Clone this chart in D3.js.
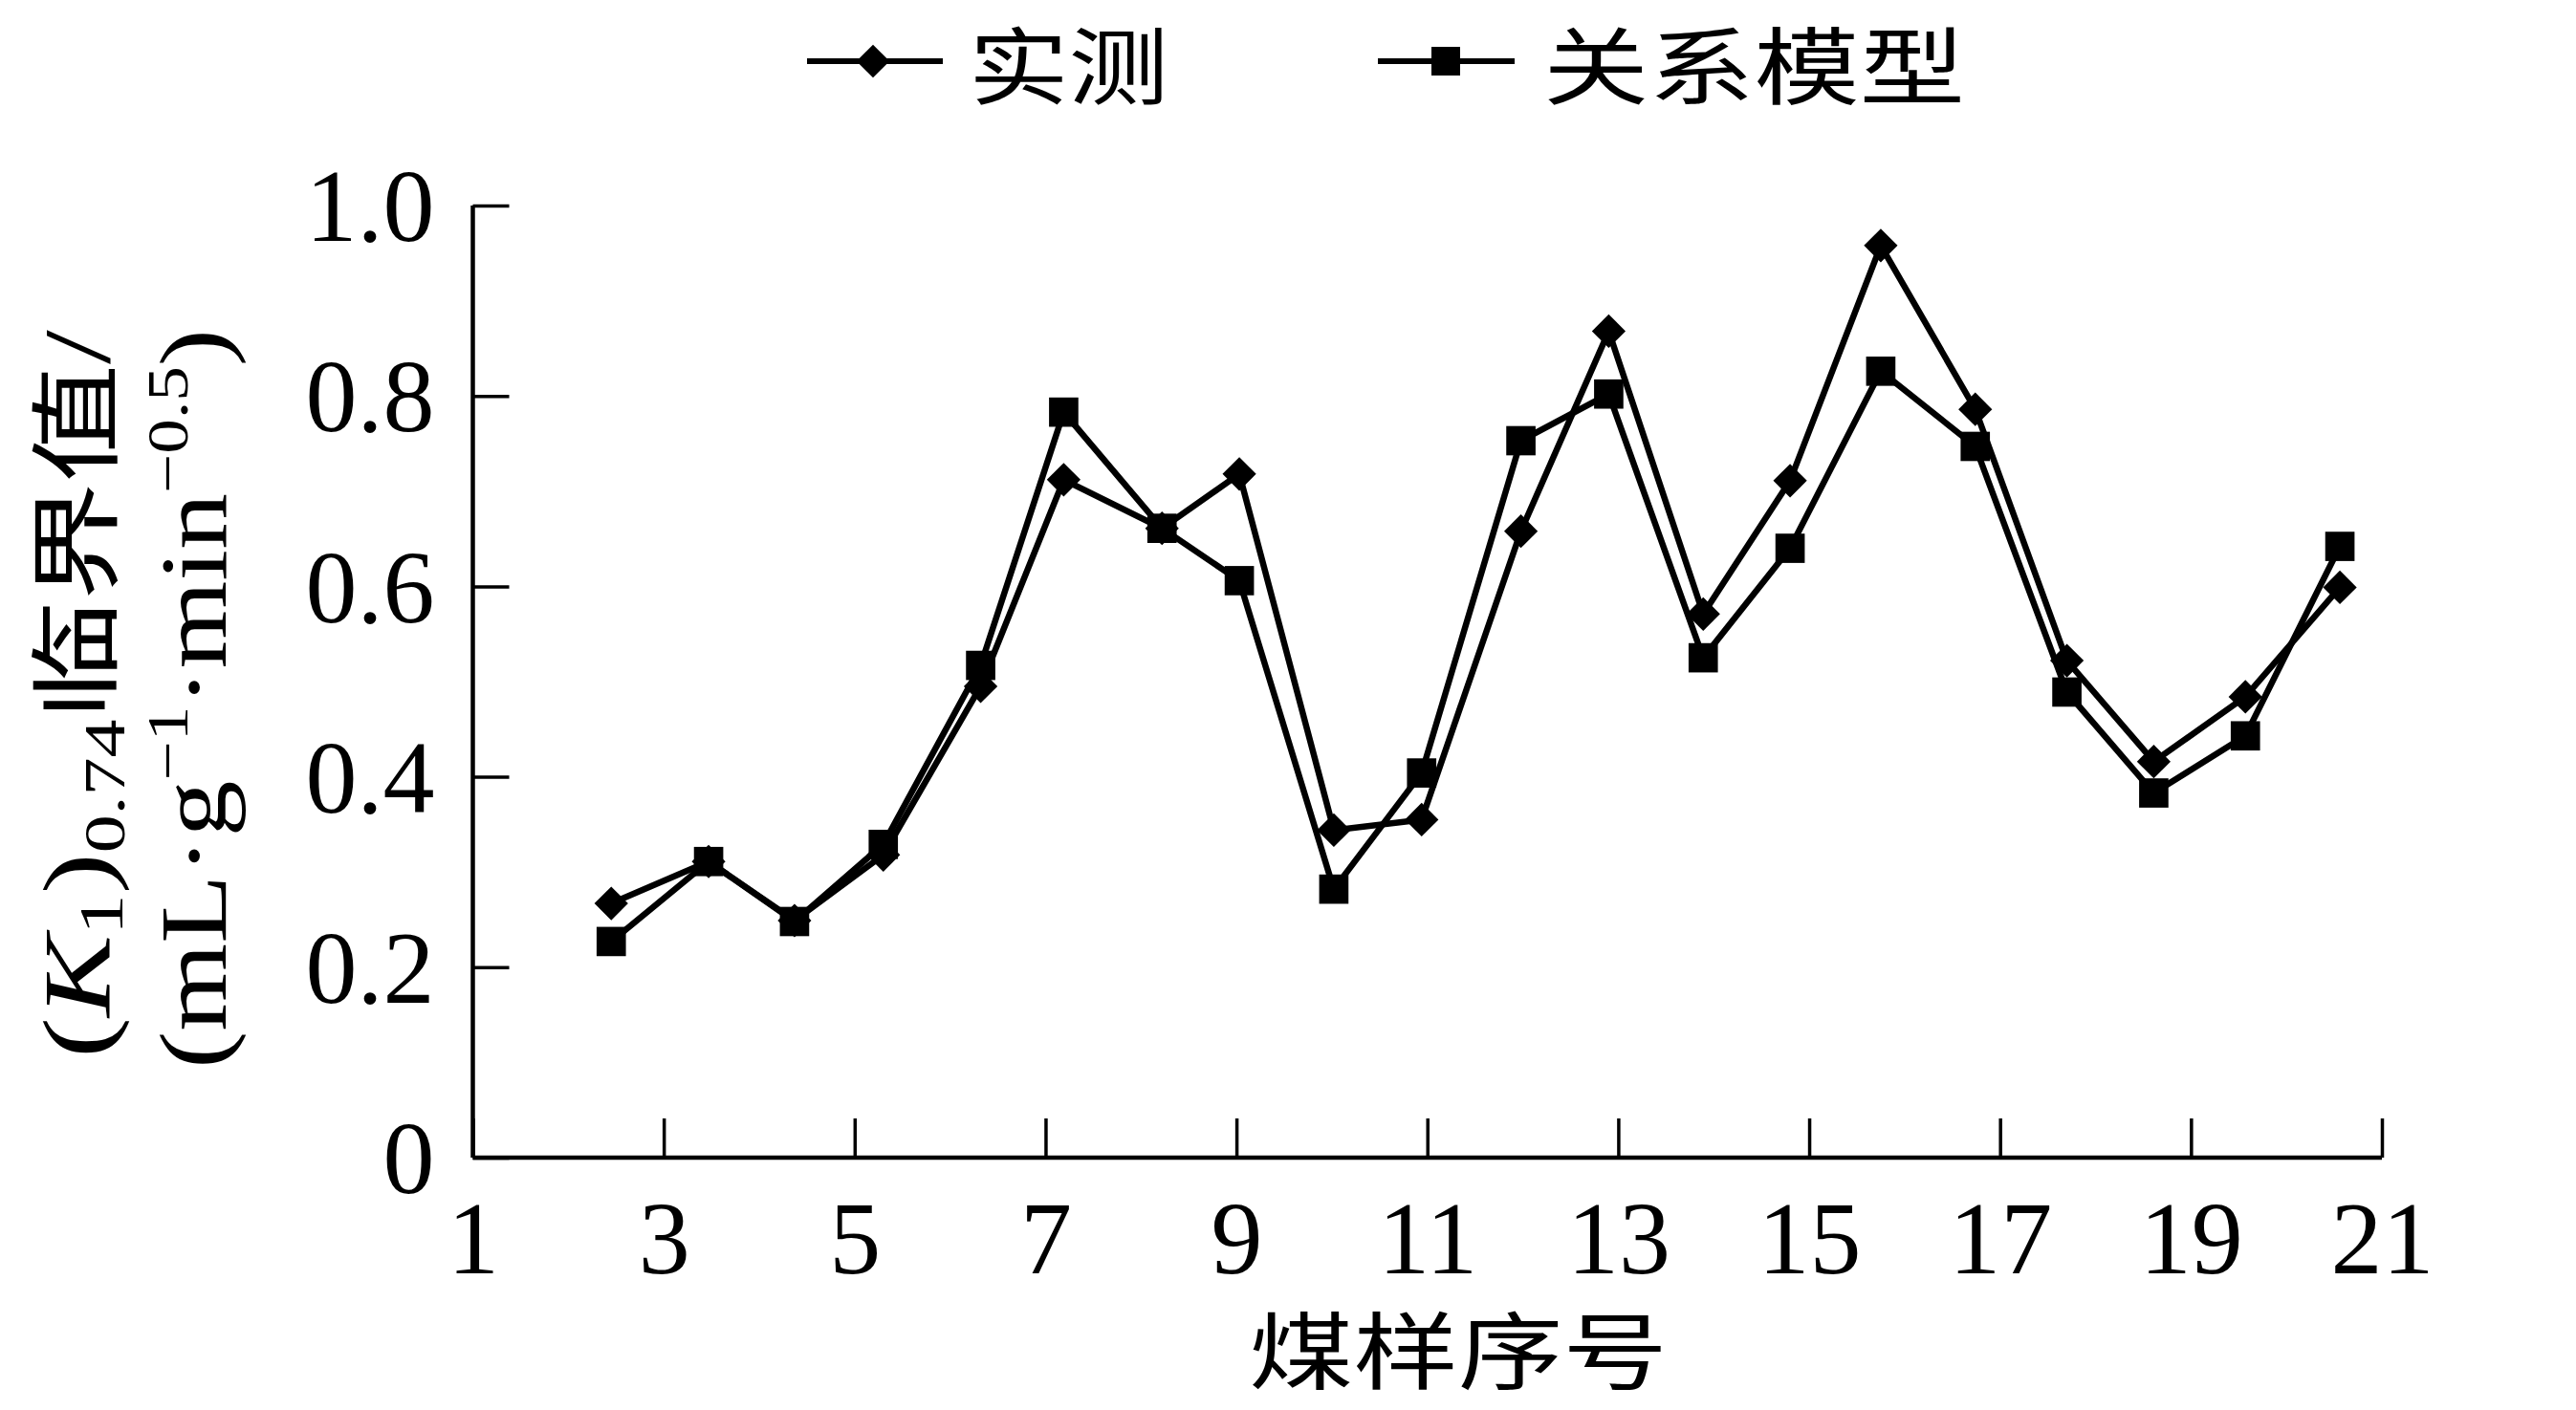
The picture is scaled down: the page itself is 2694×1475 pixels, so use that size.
<!DOCTYPE html>
<html>
<head>
<meta charset="utf-8">
<script src="https://cdn.jsdelivr.net/npm/d3@7"></script>
<style>
  html, body { margin: 0; padding: 0; background: #fff; }
  svg { display: block; }
</style>
</head>
<body>
<svg id="chart" width="2694" height="1475"></svg>
<script>
// ---- data ----
const sampleX = [2.45, 3.47, 4.37, 5.30, 6.32, 7.19, 8.22, 9.03, 10.02, 10.94,
                 11.98, 12.90, 13.89, 14.80, 15.75, 16.74, 17.70, 18.61, 19.57, 20.56];
const measured = [0.267, 0.311, 0.249, 0.318, 0.495, 0.712, 0.661, 0.718, 0.344, 0.355,
                  0.658, 0.868, 0.571, 0.711, 0.958, 0.786, 0.522, 0.416, 0.484, 0.599];
const model = [0.227, 0.311, 0.248, 0.329, 0.517, 0.783, 0.661, 0.606, 0.282, 0.404,
               0.753, 0.802, 0.525, 0.640, 0.826, 0.747, 0.489, 0.383, 0.443, 0.642];
const seriesNames = ["实测", "关系模型"];
const xTicks = [1, 3, 5, 7, 9, 11, 13, 15, 17, 19, 21];
const yTicks = [0, 0.2, 0.4, 0.6, 0.8, 1.0];
const yTickLabels = ["0", "0.2", "0.4", "0.6", "0.8", "1.0"];
const xTitle = "煤样序号";

// ---- layout ----
const svg = d3.select("#chart");
svg.append("rect").attr("width", 2694).attr("height", 1475).attr("fill", "#fff");

const X0 = 494.5, X1 = 2491, Y0 = 1211, Y1 = 215;
const x = d3.scaleLinear().domain([1, 21]).range([X0, X1]);
const y = d3.scaleLinear().domain([0, 1]).range([Y0, Y1]);

const serif = "'Liberation Serif', 'Times New Roman', serif";
const cjk = "'Noto Sans CJK SC', sans-serif";

// axes
const xAxis = d3.axisBottom(x).tickValues(xTicks).tickFormat(d3.format("d"))
  .tickSizeInner(-41).tickSizeOuter(0).tickPadding(44);
const gx = svg.append("g").attr("transform", `translate(0,${Y0})`).call(xAxis);

const yAxis = d3.axisLeft(y).tickValues(yTicks).tickFormat((d, i) => yTickLabels[i])
  .tickSizeInner(-38).tickSizeOuter(0).tickPadding(40);
const gy = svg.append("g").attr("transform", `translate(${X0},0)`).call(yAxis);

[gx, gy].forEach(g => {
  g.select(".domain").attr("stroke", "#000").attr("stroke-width", 4.5);
  g.selectAll(".tick line").attr("stroke", "#000").attr("stroke-width", 3.5);
  g.selectAll(".tick text").attr("fill", "#000")
    .style("font-family", serif).style("font-size", "108px");
});
gx.select(".domain").attr("d", `M${X0},0H${X1}`);
gy.select(".domain").attr("d", `M0,${Y0}V${Y1}`);
gy.selectAll(".tick text").attr("dy", "0.34em");

// lines and markers
const line = d3.line().x((d, i) => x(sampleX[i])).y(d => y(d));
const diamond = d3.symbol().type(d3.symbolSquare).size(620);
const square = d3.symbol().type(d3.symbolSquare).size(940);

svg.append("path").datum(measured).attr("d", line)
  .attr("fill", "none").attr("stroke", "#000").attr("stroke-width", 6.5).attr("stroke-linejoin", "miter");
svg.append("path").datum(model).attr("d", line)
  .attr("fill", "none").attr("stroke", "#000").attr("stroke-width", 6.5).attr("stroke-linejoin", "miter");

svg.append("g").selectAll("path").data(measured).join("path")
  .attr("d", diamond)
  .attr("transform", (d, i) => `translate(${x(sampleX[i])},${y(d)}) rotate(45)`)
  .attr("fill", "#000");
svg.append("g").selectAll("path").data(model).join("path")
  .attr("d", square)
  .attr("transform", (d, i) => `translate(${x(sampleX[i])},${y(d)})`)
  .attr("fill", "#000");

// legend
const leg = svg.append("g");
const legItems = [
  {name: seriesNames[0], x1: 844, x2: 986, mx: 913, sym: d3.symbol().type(d3.symbolSquare).size(600), rot: 45, tx: 1013, tw: 209},
  {name: seriesNames[1], x1: 1441, x2: 1584, mx: 1512, sym: d3.symbol().type(d3.symbolSquare).size(900), rot: 0, tx: 1614, tw: 441}
];
const LY = 64;
legItems.forEach(it => {
  leg.append("line").attr("x1", it.x1).attr("x2", it.x2).attr("y1", LY).attr("y2", LY)
    .attr("stroke", "#000").attr("stroke-width", 6);
  leg.append("path").attr("d", it.sym()).attr("fill", "#000")
    .attr("transform", `translate(${it.mx},${LY}) rotate(${it.rot})`);
  leg.append("text").attr("x", it.tx).attr("y", 102)
    .attr("textLength", it.tw).attr("lengthAdjust", "spacingAndGlyphs")
    .style("font-family", cjk).style("font-size", "88px").attr("fill", "#000")
    .text(it.name);
});

// x title
svg.append("text").attr("x", 1306).attr("y", 1446)
  .attr("textLength", 438).attr("lengthAdjust", "spacingAndGlyphs")
  .style("font-family", cjk).style("font-size", "88px").attr("fill", "#000")
  .text(xTitle);

// y title (two rotated lines, stretched along the text direction)
function addRich(g, parts) {
  const t = g.append("text").attr("text-anchor", "middle").attr("fill", "#000");
  parts.forEach(p => {
    const s = t.append("tspan").text(p.t)
      .style("font-family", p.f || serif)
      .style("font-size", (p.s || 100) + "px");
    if (p.i) s.style("font-style", "italic");
    if (p.dy) s.attr("dy", p.dy);
  });
  return t;
}
const yt1 = svg.append("g").attr("transform", "translate(114,726) rotate(-90) scale(1.29,1)");
addRich(yt1, [
  {t: "("}, {t: "K", i: true}, {t: "1", s: 66, dy: 14}, {t: ")", dy: -14},
  {t: "0.74", s: 62, dy: 16}, {t: "临界值", f: cjk, s: 96, dy: -16}, {t: "/"}
]);
const yt2 = svg.append("g").attr("transform", "translate(236,731) rotate(-90) scale(1.18,1)");
addRich(yt2, [
  {t: "(mL·g"}, {t: "−1", s: 62, dy: -40}, {t: "·min", dy: 40},
  {t: "−0.5", s: 62, dy: -40}, {t: ")", dy: 40}
]);
</script>
</body>
</html>
